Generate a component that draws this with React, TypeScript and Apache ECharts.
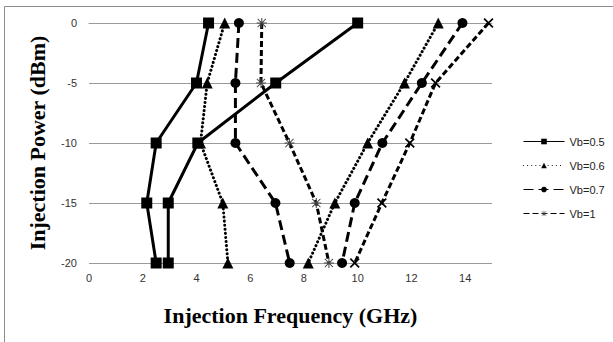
import React, { useEffect, useRef } from "react";
import * as echarts from "echarts";

const powerLevels = [0, -5, -10, -15, -20];
const seriesNames = ["Vb=0.5", "Vb=0.6", "Vb=0.7", "Vb=1"];
const vb05Low = [4.45, 4.0, 2.5, 2.15, 2.5];
const vb05High = [10.0, 6.95, 4.05, 2.95, 2.95];
const vb06Low = [5.05, 4.4, 4.15, 4.98, 5.17];
const vb06High = [13.0, 11.74, 10.37, 9.15, 8.16];
const vb07Low = [5.58, 5.45, 5.45, 6.94, 7.47];
const vb07High = [13.9, 12.39, 10.92, 9.89, 9.42];
const vb1Low = [6.43, 6.4, 7.46, 8.46, 8.93];
const vb1High = [14.87, 12.9, 11.94, 10.9, 9.89];

const xPath =
  "path://M0,1.2 L1.2,0 L5,3.8 L8.8,0 L10,1.2 L6.2,5 L10,8.8 L8.8,10 L5,6.2 L1.2,10 L0,8.8 L3.8,5 Z";
const starPath =
  "path://M4.5,0 L5.5,0 L5.5,10 L4.5,10 Z M0,4.5 L10,4.5 L10,5.5 L0,5.5 Z M1.2,0.6 L9.4,8.8 L8.8,9.4 L0.6,1.2 Z M8.8,0.6 L9.4,1.2 L1.2,9.4 L0.6,8.8 Z";

const pts = (xs: number[]) => xs.map((x, i) => [x, powerLevels[i]]);

export default function App() {
  const ref = useRef<HTMLDivElement>(null);
  useEffect(() => {
    if (!ref.current) return;
    const chart = echarts.init(ref.current, undefined, { renderer: "svg" });
    const mk = (
      name: string,
      data: number[],
      symbol: string,
      symbolSize: number,
      lineType: any,
      cap: string,
      symColor = "#000"
    ) => ({
      type: "line",
      name,
      data: pts(data),
      symbol,
      symbolSize,
      showAllSymbol: true,
      itemStyle: { color: symColor },
      lineStyle: { color: "#000", width: 3, type: lineType, cap },
    });
    const dotted = [0.1, 4];
    const longDash = [10, 5];
    const shortDash = [6, 3];
    chart.setOption({
      animation: false,
      grid: { left: 89, right: 121, top: 23, bottom: 79 },
      graphic: [
        {
          type: "polyline",
          shape: { points: [[4.5, 400], [4.5, 6.5], [700, 6.5]] },
          style: { stroke: "#8c8c8c", lineWidth: 1, fill: "none" },
        },
      ],
      legend: {
        orient: "vertical",
        left: 518,
        top: 131,
        itemWidth: 41,
        itemHeight: 7,
        itemGap: 13,
        data: seriesNames,
        textStyle: { fontFamily: "Liberation Sans", fontSize: 11, color: "#222" },
        lineStyle: { width: 1 },
      },
      xAxis: {
        type: "value",
        min: 0,
        max: 15,
        interval: 2,
        name: "Injection Frequency (GHz)",
        nameLocation: "middle",
        nameGap: 41,
        nameTextStyle: {
          fontFamily: "Liberation Serif",
          fontWeight: "bold",
          fontSize: 22,
          color: "#000",
        },
        axisLine: { show: true, lineStyle: { color: "#9a9a9a", width: 1 } },
        axisTick: { show: false },
        splitLine: { show: false },
        axisLabel: {
          showMaxLabel: false,
          margin: 9,
          fontFamily: "Liberation Sans",
          fontSize: 11,
          color: "#333",
        },
      },
      yAxis: {
        type: "value",
        min: -20,
        max: 0,
        interval: 5,
        name: "Injection Power (dBm)",
        nameLocation: "middle",
        nameGap: 41,
        nameTextStyle: {
          fontFamily: "Liberation Serif",
          fontWeight: "bold",
          fontSize: 22,
          color: "#000",
        },
        axisLine: { show: false },
        axisTick: { show: false },
        splitLine: { show: true, lineStyle: { color: "#9a9a9a", width: 1 } },
        axisLabel: {
          margin: 12,
          fontFamily: "Liberation Sans",
          fontSize: 11,
          color: "#333",
        },
      },
      series: [
        mk(seriesNames[0], vb05Low, "rect", 11, "solid", "butt"),
        mk(seriesNames[0], vb05High, "rect", 11, "solid", "butt"),
        mk(seriesNames[1], vb06Low, "triangle", 11, dotted, "round"),
        mk(seriesNames[1], vb06High, "triangle", 11, dotted, "round"),
        mk(seriesNames[2], vb07Low, "circle", 10, longDash, "butt"),
        mk(seriesNames[2], vb07High, "circle", 10, longDash, "butt"),
        mk(seriesNames[3], vb1Low, starPath, 10, shortDash, "butt", "#444"),
        mk(seriesNames[3], vb1High, xPath, 10, shortDash, "butt"),
      ],
    });
    return () => chart.dispose();
  }, []);
  return (
    <div
      ref={ref}
      style={{ position: "fixed", left: 0, top: 0, width: 613, height: 342, background: "#fff" }}
    />
  );
}
